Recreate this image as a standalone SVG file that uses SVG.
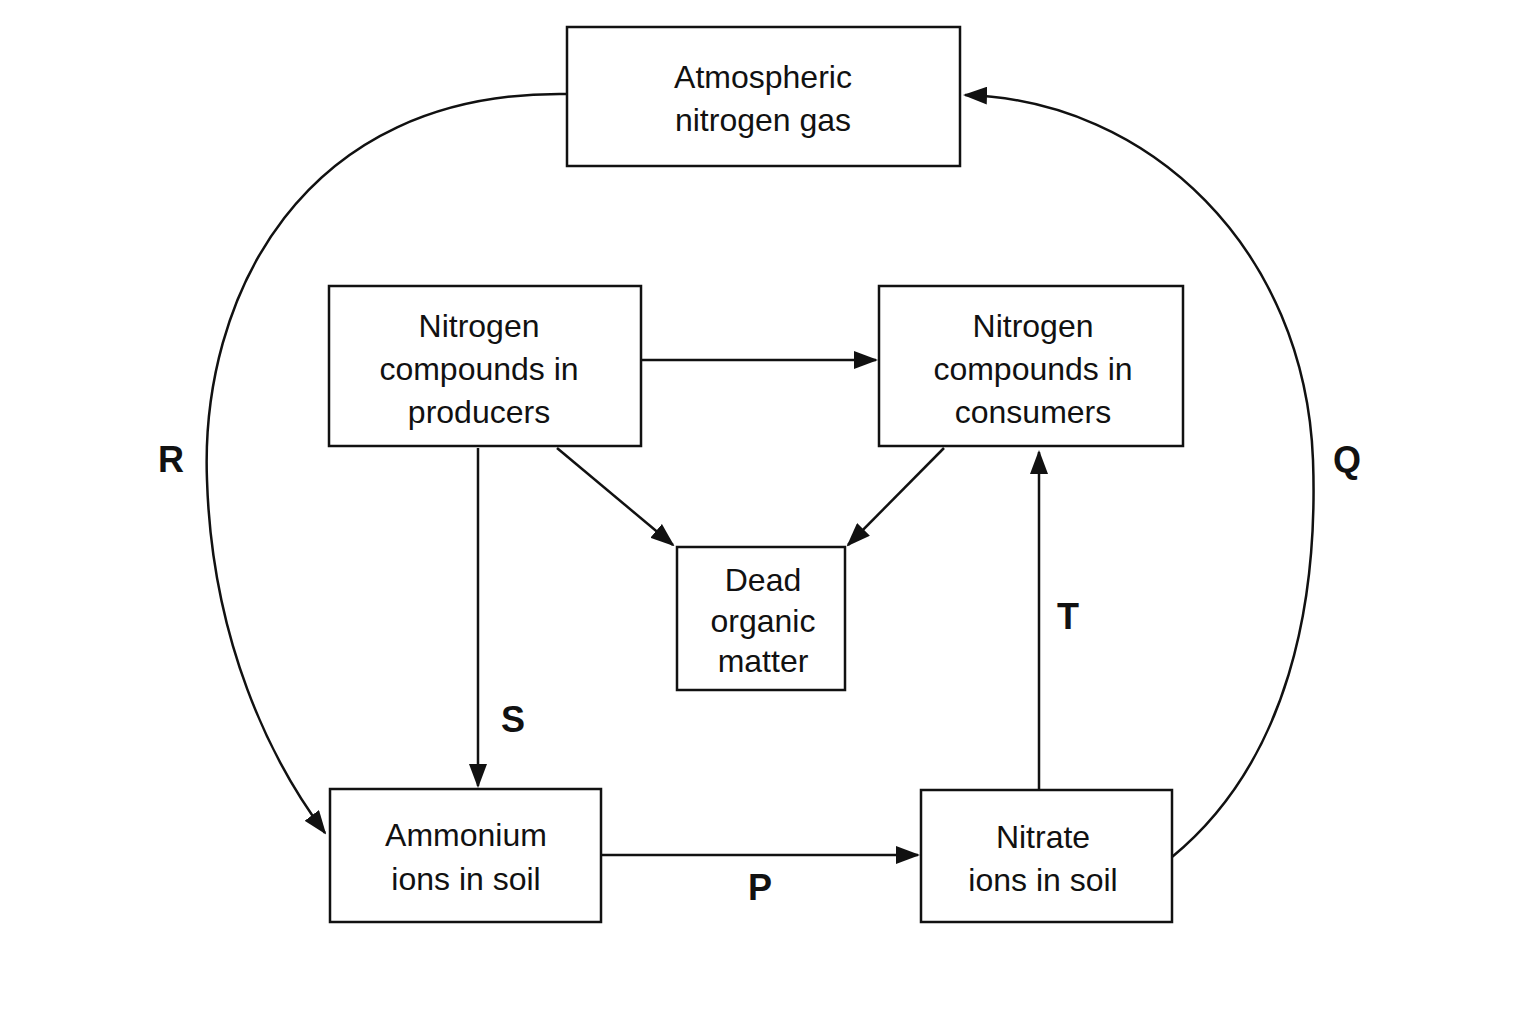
<svg xmlns="http://www.w3.org/2000/svg" width="1536" height="1024" viewBox="0 0 1536 1024">
<style>
.box{fill:#fff;stroke:#111;stroke-width:2.5}
.t{font-family:"Liberation Sans",Arial,sans-serif;font-size:32px;fill:#111;text-anchor:middle}
.l{font-family:"Liberation Sans",Arial,sans-serif;font-size:36px;font-weight:bold;fill:#111;text-anchor:middle}
.c{fill:none;stroke:#111;stroke-width:2.5;marker-end:url(#a)}
</style>
<defs><marker id="a" markerWidth="12" markerHeight="10" refX="11" refY="5" orient="auto" markerUnits="userSpaceOnUse" viewBox="0 0 12 10"><path d="M0,0 L12,5 L0,10 Z" fill="#111"/></marker>
<marker id="b" markerWidth="24" markerHeight="18" refX="22" refY="9" orient="auto" markerUnits="userSpaceOnUse" viewBox="0 0 24 18"><path d="M0,0 L24,9 L0,18 Z" fill="#111"/></marker></defs>
<rect width="1536" height="1024" fill="#fff"/>
<g id="connectors">
<path class="c" style="marker-end:url(#b)" d="M641,360 H876"/>
<path class="c" style="marker-end:url(#b)" d="M557,448 L673,545"/>
<path class="c" style="marker-end:url(#b)" d="M944,448 L848,545"/>
<path class="c" style="marker-end:url(#b)" d="M478,448 V786"/>
<path class="c" style="marker-end:url(#b)" d="M601,855 H918"/>
<path class="c" style="marker-end:url(#b)" d="M1039,790 V452"/>
<path class="c" style="marker-end:url(#b)" d="M567,94 C300,90 200,300 207,480 C212,640 270,760 325,833"/>
<path class="c" style="marker-end:url(#b)" d="M1172,857 C1290,760 1318,600 1313,460 C1305,250 1150,100 965,95"/>
</g>
<g id="labels">
<text class="l" x="171" y="472">R</text>
<text class="l" x="1347" y="472">Q</text>
<text class="l" x="513" y="732">S</text>
<text class="l" x="1068" y="629">T</text>
<text class="l" x="760" y="900">P</text>
</g>
<g id="atm"><rect class="box" x="567" y="27" width="393" height="139"/><text class="t" x="763" y="88">Atmospheric</text><text class="t" x="763" y="131">nitrogen gas</text></g>
<g id="producers"><rect class="box" x="329" y="286" width="312" height="160"/><text class="t" x="479" y="337">Nitrogen</text><text class="t" x="479" y="380">compounds in</text><text class="t" x="479" y="423">producers</text></g>
<g id="consumers"><rect class="box" x="879" y="286" width="304" height="160"/><text class="t" x="1033" y="337">Nitrogen</text><text class="t" x="1033" y="380">compounds in</text><text class="t" x="1033" y="423">consumers</text></g>
<g id="dead"><rect class="box" x="677" y="547" width="168" height="143"/><text class="t" x="763" y="591">Dead</text><text class="t" x="763" y="632">organic</text><text class="t" x="763" y="672">matter</text></g>
<g id="ammonium"><rect class="box" x="330" y="789" width="271" height="133"/><text class="t" x="466" y="846">Ammonium</text><text class="t" x="466" y="890">ions in soil</text></g>
<g id="nitrate"><rect class="box" x="921" y="790" width="251" height="132"/><text class="t" x="1043" y="848">Nitrate</text><text class="t" x="1043" y="891">ions in soil</text></g>
</svg>
